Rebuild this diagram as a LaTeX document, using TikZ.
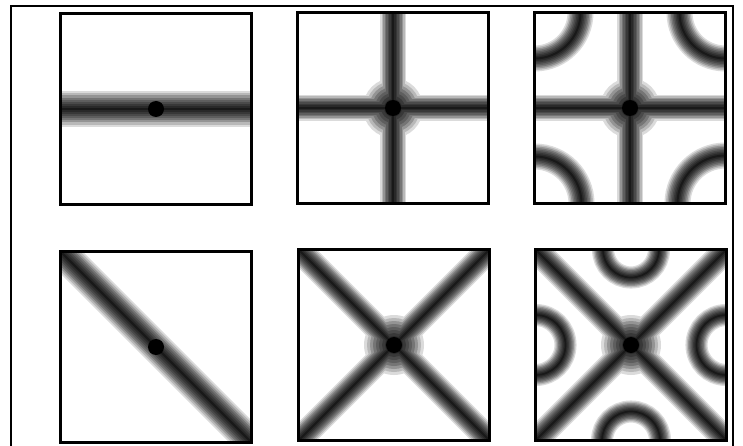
\documentclass[tikz,border=0pt]{standalone}
\begin{document}
\begin{tikzpicture}[x=1pt,y=-1pt]
\useasboundingbox (0,0) rectangle (743,446);
\tikzset{
  panelborder/.style={draw=black, line width=3pt},
  frameline/.style={line width=2pt},
  dotmark/.style={fill=black},
}
\def\layers{26/14,23/28,20/42,17/54,14/63,11/71,8/78,5/84,2/90}
\def\hs{95.5}
% outer frame
\draw[frameline] (11,446) -- (11,6) -- (733,6) -- (733,446);

% Panel 1: horizontal line
\begin{scope}[shift={(156,109)}]
  \begin{scope}
    \clip (-\hs,-\hs) rectangle (\hs,\hs);
    \foreach \w/\c in \layers {
      \draw[line width=1.35*\w, black!\c] (-120,0) -- (120,0);
    }
  \end{scope}
  \node[circle, dotmark, inner sep=0pt, minimum size=16pt] (d1) at (0,0) {};
  \draw[panelborder] (-\hs,-\hs) rectangle (\hs,\hs);
\end{scope}

% Panel 2: cross
\begin{scope}[shift={(393,108)}]
  \begin{scope}
    \clip (-\hs,-\hs) rectangle (\hs,\hs);
    \foreach \w/\c in \layers {
      \fill[black!\c] (0,0) circle ({\w+4});
      \draw[line width=\w, black!\c] (-120,0) -- (120,0) (0,-120) -- (0,120);
    }
  \end{scope}
  \node[circle, dotmark, inner sep=0pt, minimum size=16pt] (d2) at (0,0) {};
  \draw[panelborder] (-\hs,-\hs) rectangle (\hs,\hs);
\end{scope}

% Panel 3: cross with corner arcs
\begin{scope}[shift={(630,108)}]
  \begin{scope}
    \clip (-\hs,-\hs) rectangle (\hs,\hs);
    \foreach \w/\c in \layers {
      \fill[black!\c] (0,0) circle ({\w+4});
      \draw[line width=\w, black!\c] (-120,0) -- (120,0) (0,-120) -- (0,120);
      \draw[line width=\w, black!\c]
        (-\hs,-\hs) circle (46) (\hs,-\hs) circle (46)
        (-\hs,\hs) circle (47) (\hs,\hs) circle (48);
    }
  \end{scope}
  \node[circle, dotmark, inner sep=0pt, minimum size=16pt] (d3) at (0,0) {};
  \draw[panelborder] (-\hs,-\hs) rectangle (\hs,\hs);
\end{scope}

% Panel 4: diagonal line
\begin{scope}[shift={(156,347)}]
  \begin{scope}
    \clip (-\hs,-\hs) rectangle (\hs,\hs);
    \foreach \w/\c in \layers {
      \draw[line width=1.2*\w, black!\c] (-120,-120) -- (120,120);
    }
  \end{scope}
  \node[circle, dotmark, inner sep=0pt, minimum size=16pt] (d4) at (0,0) {};
  \draw[panelborder] (-\hs,-\hs) rectangle (\hs,\hs);
\end{scope}

% Panel 5: X
\begin{scope}[shift={(394,345)}]
  \begin{scope}
    \clip (-\hs,-\hs) rectangle (\hs,\hs);
    \foreach \w/\c in \layers {
      \fill[black!\c] (0,0) circle ({\w+4});
      \draw[line width=\w, black!\c] (-120,-120) -- (120,120) (-120,120) -- (120,-120);
    }
  \end{scope}
  \node[circle, dotmark, inner sep=0pt, minimum size=16pt] (d5) at (0,0) {};
  \draw[panelborder] (-\hs,-\hs) rectangle (\hs,\hs);
\end{scope}

% Panel 6: X with edge semicircles
\begin{scope}[shift={(631,345)}]
  \begin{scope}
    \clip (-\hs,-\hs) rectangle (\hs,\hs);
    \foreach \w/\c in \layers {
      \fill[black!\c] (0,0) circle ({\w+4});
      \draw[line width=\w, black!\c] (-120,-120) -- (120,120) (-120,120) -- (120,-120);
      \draw[line width=0.85*\w, black!\c]
        (0,-\hs) circle (28) (0,\hs) circle (29)
        (-\hs,0) circle (30) (\hs,0) circle (30);
    }
  \end{scope}
  \node[circle, dotmark, inner sep=0pt, minimum size=16pt] (d6) at (0,0) {};
  \draw[panelborder] (-\hs,-\hs) rectangle (\hs,\hs);
\end{scope}
\end{tikzpicture}
\end{document}
